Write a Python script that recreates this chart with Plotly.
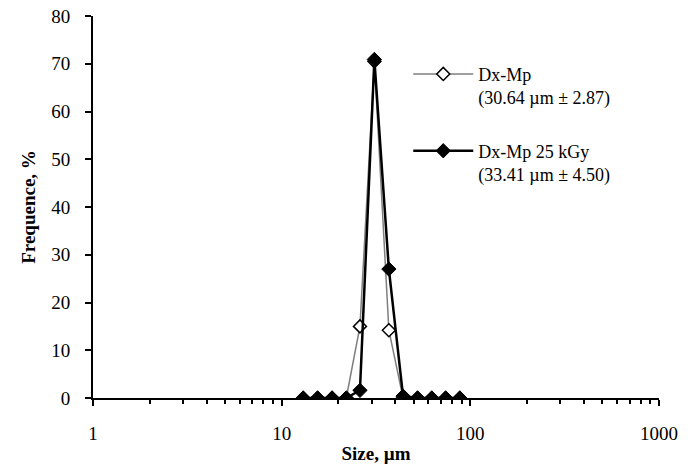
import plotly.graph_objects as go

sizes = [13, 15.5, 18.5, 22, 26, 31, 37, 44, 52.5, 62.5, 74, 88]
dx_mp = [0, 0, 0, 0, 15.0, 70.5, 14.2, 0, 0, 0, 0, 0]
dx_mp_25 = [0, 0, 0, 0, 1.6, 70.9, 27.0, 0.4, 0, 0, 0, 0]
names = ["Dx-Mp<br>(30.64 µm ± 2.87)", "Dx-Mp 25 kGy<br>(33.41 µm ± 4.50)"]
x_ticks = [1, 10, 100, 1000]
y_ticks = [0, 10, 20, 30, 40, 50, 60, 70, 80]
minor_x = [2, 3, 4, 5, 6, 7, 8, 9, 20, 30, 40, 50, 60, 70, 80, 90, 200, 300, 400, 500, 600, 700, 800, 900]

FONT = "Liberation Serif"

fig = go.Figure()
fig.add_trace(go.Scatter(
    x=sizes, y=dx_mp, mode="lines+markers", name=names[0], legendgroup="a",
    line=dict(color="#7f7f7f", width=1.5),
    marker=dict(symbol="diamond", size=10, color="white", line=dict(color="black", width=1.5)),
))
fig.add_trace(go.Scatter(
    x=sizes, y=dx_mp_25, mode="lines+markers", name=names[1], legendgroup="b",
    line=dict(color="black", width=2.5),
    marker=dict(symbol="diamond", size=11, color="black", line=dict(color="black", width=1)),
))

fig.update_layout(
    width=688, height=466,
    margin=dict(l=93, r=29, t=16, b=68),
    paper_bgcolor="white", plot_bgcolor="white",
    font=dict(family=FONT, size=19, color="black"),
    showlegend=True,
    legend=dict(x=0.557, y=0.896, xanchor="left", yanchor="top",
                bgcolor="rgba(0,0,0,0)", itemwidth=60, valign="top",
                font=dict(family=FONT, size=18), tracegroupgap=27),
    xaxis=dict(type="log", range=[0, 3], tickvals=x_ticks, ticktext=[str(v) for v in x_ticks],
               automargin=False,
               showgrid=False, zeroline=False, showline=True, linecolor="black", linewidth=2,
               ticks="outside", ticklen=6, tickwidth=2, tickcolor="black",
               ticklabelstandoff=11,
               minor=dict(tickvals=minor_x, ticks="outside", ticklen=4, tickwidth=1.5,
                          tickcolor="black", showgrid=False),
               title=dict(text="<b>Size, µm</b>", font=dict(family=FONT, size=19), standoff=4)),
    yaxis=dict(range=[0, 80], tickvals=y_ticks, showgrid=False, zeroline=False,
               automargin=False,
               showline=True, linecolor="black", linewidth=2,
               ticks="outside", ticklen=6, tickwidth=1.5, tickcolor="black",
               ticklabelstandoff=11,
               title=dict(text="<b>Frequence, %</b>", font=dict(family=FONT, size=19), standoff=11)),
)

fig.write_html("out.html", config={"displayModeBar": False},
               post_script="document.body.style.margin='0';")
